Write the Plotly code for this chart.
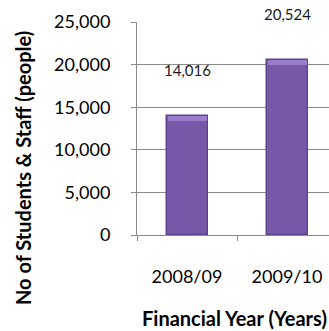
import plotly.graph_objects as go

# Financial-year headcount of students and staff
years = ["2008/09", "2009/10"]
people = [14016, 20524]
y_ticks = [0, 5000, 10000, 15000, 20000, 25000]
y_tick_text = ["0", "5,000", "10,000", "15,000", "20,000", "25,000"]

FONT = "Lato"
BAR = "#7858a8"
BAR_EDGE = "#5f4490"
BEVEL = "#9b7dcc"
GRID = "#8a8a8a"

fig = go.Figure()

# main column
fig.add_trace(go.Bar(
    x=years, y=people, width=0.41,
    marker=dict(color=BAR, line=dict(color=BAR_EDGE, width=1.5)),
    hoverinfo="skip", showlegend=False,
))
# lighter bevel strip along the top of each column
bevel_h = 600
fig.add_trace(go.Bar(
    x=years, y=[bevel_h] * len(people), base=[v - bevel_h for v in people],
    width=0.39,
    marker=dict(color=BEVEL, line=dict(width=0)),
    hoverinfo="skip", showlegend=False,
))

# value labels
for yr, v in zip(years, people):
    fig.add_annotation(
        x=yr, y=v, xref="x", yref="y", text=f"{v:,}", showarrow=False,
        yanchor="middle", yshift=46, font=dict(family=FONT, size=15, color="#1a1a1a"),
    )

plot_w = 329 - 137
plot_h = 235 - 22

# axis titles
fig.add_annotation(
    x=(23 - 137) / plot_w, y=(235 - 168) / plot_h, xref="paper", yref="paper",
    text="<b>No of Students & Staff (people)</b>", textangle=-90, showarrow=False,
    xanchor="center", yanchor="middle", font=dict(family=FONT, size=20, color="#000000"),
)
fig.add_annotation(
    x=1, y=(235 - 318) / plot_h, xref="paper", yref="paper",
    text="<b>Financial Year (Years)</b>", showarrow=False,
    xanchor="right", yanchor="middle", font=dict(family=FONT, size=20, color="#000000"),
)

fig.update_layout(
    width=329, height=331,
    margin=dict(l=137, r=0, t=22, b=96, pad=0),
    paper_bgcolor="white", plot_bgcolor="white",
    barmode="overlay", bargap=0,
    font=dict(family=FONT, size=18, color="#000000"),
)
fig.update_xaxes(
    type="category", range=[-0.5, 1.42],
    showline=True, linecolor=GRID, linewidth=1,
    ticks="outside", tickson="boundaries", ticklen=5, tickcolor=GRID,
    ticklabelstandoff=25, showgrid=False, zeroline=False,
    tickfont=dict(family=FONT, size=18, color="#000000"),
)
fig.update_yaxes(
    range=[0, 25000], tickvals=y_ticks, ticktext=y_tick_text,
    showline=True, linecolor=GRID, linewidth=1,
    ticks="outside", ticklen=5, tickcolor=GRID, ticklabelstandoff=17,
    showgrid=True, gridcolor=GRID, gridwidth=1, zeroline=False,
    tickfont=dict(family=FONT, size=18, color="#000000"),
)

fig.write_html("out.html")
